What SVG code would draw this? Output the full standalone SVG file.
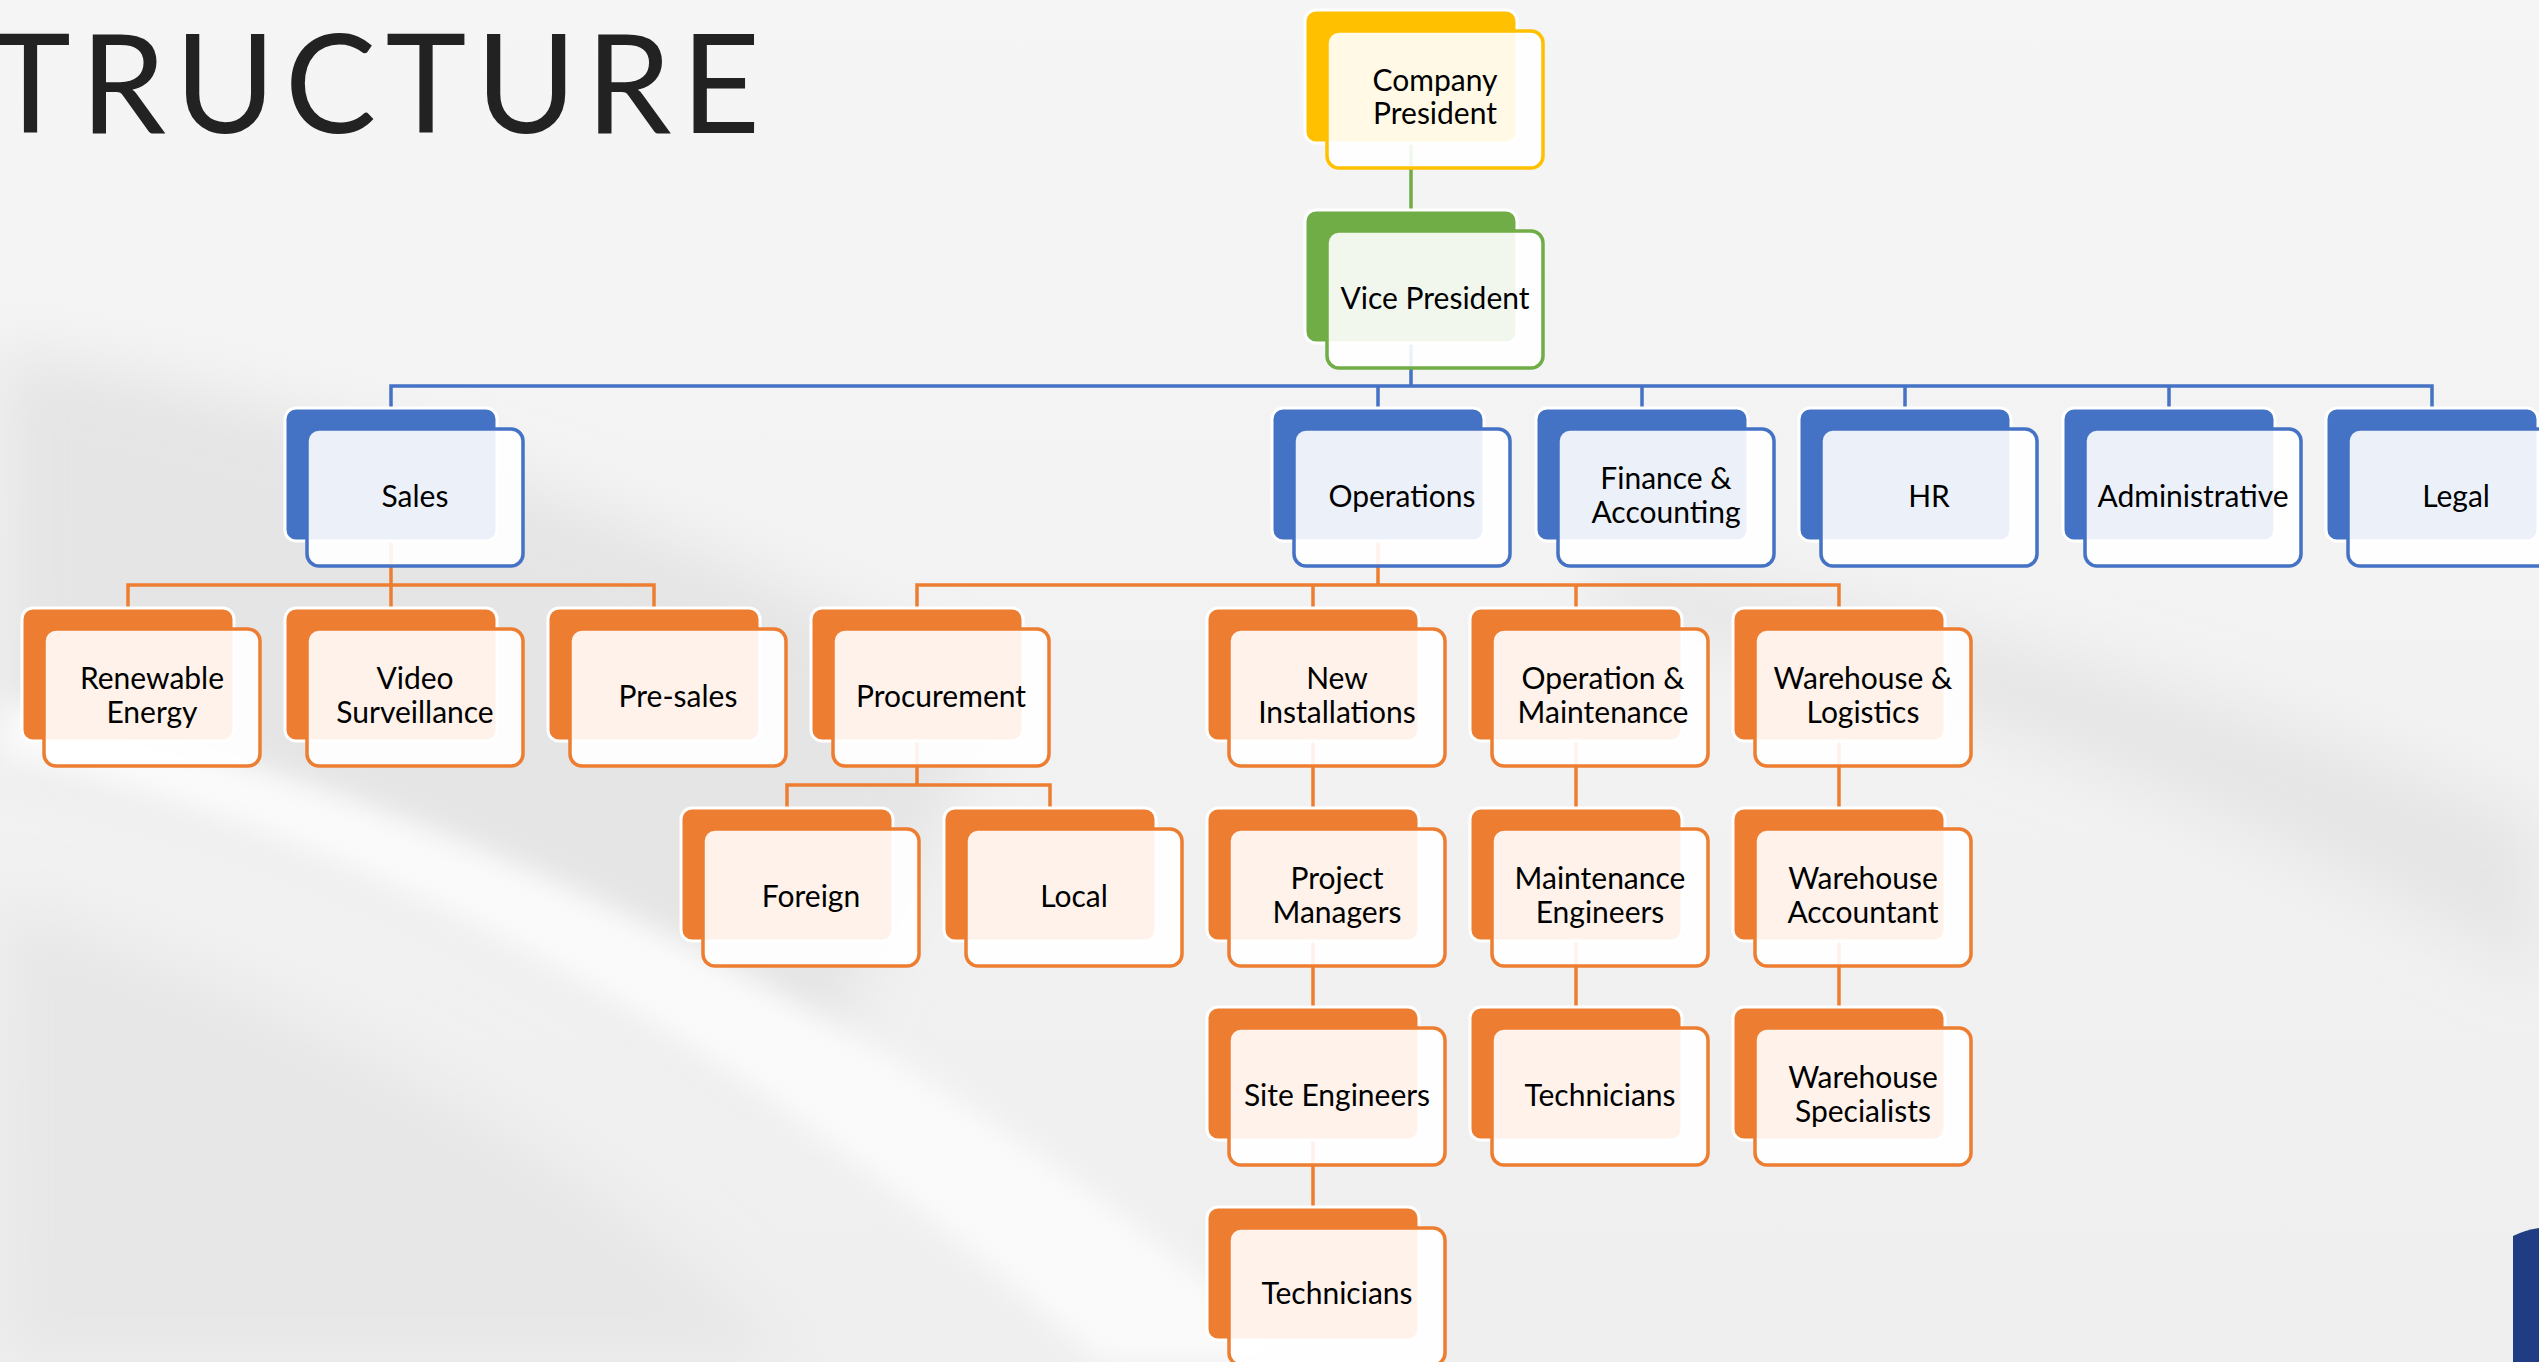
<svg xmlns="http://www.w3.org/2000/svg" width="2539" height="1362" viewBox="0 0 2539 1362">
<defs>
<style>
.bk{stroke:#ffffff;stroke-width:3}
.fr{fill:#ffffff;fill-opacity:0.9;stroke-width:3.5}
.gold .bk{fill:#FFC000}.gold .fr{stroke:#FFC000}
.green .bk{fill:#70AD47}.green .fr{stroke:#70AD47}
.blue .bk{fill:#4472C4}.blue .fr{stroke:#4472C4}
.orange .bk{fill:#ED7D31}.orange .fr{stroke:#ED7D31}
.lbl{font-family:Lato,"Liberation Sans",sans-serif;font-size:30px;text-anchor:middle;fill:#000000}
.c{fill:none;stroke-width:3.5}
.cg{stroke:#70AD47}.cb{stroke:#4472C4}.co{stroke:#ED7D31}
.title{font-family:Lato,"Liberation Sans",sans-serif;font-weight:400;font-size:137px;fill:#222222}
</style>
<linearGradient id="bgg" x1="0" y1="0" x2="0" y2="1">
<stop offset="0" stop-color="#F5F5F5"/>
<stop offset="1" stop-color="#EFEFEF"/>
</linearGradient>
<filter id="soft" x="-20%" y="-20%" width="140%" height="140%"><feGaussianBlur stdDeviation="30"/></filter>
<filter id="soft2" x="-20%" y="-20%" width="140%" height="140%"><feGaussianBlur stdDeviation="14"/></filter>
</defs>

<g id="background">
<rect x="0" y="0" width="2539" height="1362" fill="url(#bgg)"/>
<path d="M0,350 C300,400 700,520 1000,700 L800,1100 C500,900 250,800 0,760 Z" fill="#E5E5E5" filter="url(#soft)"/>
<path d="M0,900 C300,1000 600,1150 800,1362 L0,1362 Z" fill="#E7E7E7" filter="url(#soft)"/>
<path d="M0,760 C300,820 700,1000 1100,1362 L1300,1362 C900,1000 400,780 0,700 Z" fill="#FAFAFA" filter="url(#soft2)"/>
<path d="M1600,620 C2000,700 2300,850 2539,980 L2539,820 C2300,720 2000,620 1600,560 Z" fill="#E6E6E6" filter="url(#soft)"/>
<path d="M2513,1236 Q2525,1230 2539,1228 L2539,1362 L2513,1362 Z" fill="#203D84"/>
</g>

<text class="title" x="-10" y="133" textLength="770" lengthAdjust="spacing">TRUCTURE</text>

<g id="connectors">
<path id="e-cp-vp" class="c cg" d="M1411,143 V210"/>
<path id="e-vp-level2" class="c cb" d="M1411,343 V386 M391,408 V386 H2432 V408 M1378,386 V408 M1642,386 V408 M1905,386 V408 M2169,386 V408"/>
<path id="e-sales" class="c co" d="M391,541 V585 M128,608 V585 H654 V608 M391,585 V608"/>
<path id="e-ops" class="c co" d="M1378,541 V585 M917,608 V585 H1839 V608 M1313,585 V608 M1576,585 V608"/>
<path id="e-proc" class="c co" d="M917,741 V785 M787,808 V785 H1050 V808"/>
<path id="e-newinst-chain" class="c co" d="M1313,741 V808 M1313,940 V1007 M1313,1140 V1207"/>
<path id="e-om-chain" class="c co" d="M1576,741 V808 M1576,940 V1007"/>
<path id="e-wl-chain" class="c co" d="M1839,741 V808 M1839,940 V1007"/>
</g>

<g id="n-company-president" class="gold"><rect class="bk" x="1305" y="10" width="212" height="133" rx="11"/><rect class="fr" x="1327" y="31" width="216" height="137" rx="12"/><text class="lbl" x="1435" y="91">Company</text><text class="lbl" x="1435" y="124">President</text></g>
<g id="n-vice-president" class="green"><rect class="bk" x="1305" y="210" width="212" height="133" rx="11"/><rect class="fr" x="1327" y="231" width="216" height="137" rx="12"/><text class="lbl" x="1435" y="309">Vice President</text></g>

<g id="n-sales" class="blue"><rect class="bk" x="285" y="408" width="212" height="133" rx="11"/><rect class="fr" x="307" y="429" width="216" height="137" rx="12"/><text class="lbl" x="415" y="507">Sales</text></g>
<g id="n-operations" class="blue"><rect class="bk" x="1272" y="408" width="212" height="133" rx="11"/><rect class="fr" x="1294" y="429" width="216" height="137" rx="12"/><text class="lbl" x="1402" y="507">Operations</text></g>
<g id="n-finance" class="blue"><rect class="bk" x="1536" y="408" width="212" height="133" rx="11"/><rect class="fr" x="1558" y="429" width="216" height="137" rx="12"/><text class="lbl" x="1666" y="489">Finance &amp;</text><text class="lbl" x="1666" y="523">Accounting</text></g>
<g id="n-hr" class="blue"><rect class="bk" x="1799" y="408" width="212" height="133" rx="11"/><rect class="fr" x="1821" y="429" width="216" height="137" rx="12"/><text class="lbl" x="1929" y="507">HR</text></g>
<g id="n-administrative" class="blue"><rect class="bk" x="2063" y="408" width="212" height="133" rx="11"/><rect class="fr" x="2085" y="429" width="216" height="137" rx="12"/><text class="lbl" x="2193" y="507">Administrative</text></g>
<g id="n-legal" class="blue"><rect class="bk" x="2326" y="408" width="212" height="133" rx="11"/><rect class="fr" x="2348" y="429" width="216" height="137" rx="12"/><text class="lbl" x="2456" y="507">Legal</text></g>

<g id="n-renewable-energy" class="orange"><rect class="bk" x="22" y="608" width="212" height="133" rx="11"/><rect class="fr" x="44" y="629" width="216" height="137" rx="12"/><text class="lbl" x="152" y="689">Renewable</text><text class="lbl" x="152" y="723">Energy</text></g>
<g id="n-video-surveillance" class="orange"><rect class="bk" x="285" y="608" width="212" height="133" rx="11"/><rect class="fr" x="307" y="629" width="216" height="137" rx="12"/><text class="lbl" x="415" y="689">Video</text><text class="lbl" x="415" y="723">Surveillance</text></g>
<g id="n-pre-sales" class="orange"><rect class="bk" x="548" y="608" width="212" height="133" rx="11"/><rect class="fr" x="570" y="629" width="216" height="137" rx="12"/><text class="lbl" x="678" y="707">Pre-sales</text></g>
<g id="n-procurement" class="orange"><rect class="bk" x="811" y="608" width="212" height="133" rx="11"/><rect class="fr" x="833" y="629" width="216" height="137" rx="12"/><text class="lbl" x="941" y="707">Procurement</text></g>
<g id="n-new-installations" class="orange"><rect class="bk" x="1207" y="608" width="212" height="133" rx="11"/><rect class="fr" x="1229" y="629" width="216" height="137" rx="12"/><text class="lbl" x="1337" y="689">New</text><text class="lbl" x="1337" y="723">Installations</text></g>
<g id="n-operation-maintenance" class="orange"><rect class="bk" x="1470" y="608" width="212" height="133" rx="11"/><rect class="fr" x="1492" y="629" width="216" height="137" rx="12"/><text class="lbl" x="1603" y="689">Operation &amp;</text><text class="lbl" x="1603" y="723">Maintenance</text></g>
<g id="n-warehouse-logistics" class="orange"><rect class="bk" x="1733" y="608" width="212" height="133" rx="11"/><rect class="fr" x="1755" y="629" width="216" height="137" rx="12"/><text class="lbl" x="1863" y="689">Warehouse &amp;</text><text class="lbl" x="1863" y="723">Logistics</text></g>

<g id="n-foreign" class="orange"><rect class="bk" x="681" y="808" width="212" height="133" rx="11"/><rect class="fr" x="703" y="829" width="216" height="137" rx="12"/><text class="lbl" x="811" y="907">Foreign</text></g>
<g id="n-local" class="orange"><rect class="bk" x="944" y="808" width="212" height="133" rx="11"/><rect class="fr" x="966" y="829" width="216" height="137" rx="12"/><text class="lbl" x="1074" y="907">Local</text></g>
<g id="n-project-managers" class="orange"><rect class="bk" x="1207" y="808" width="212" height="133" rx="11"/><rect class="fr" x="1229" y="829" width="216" height="137" rx="12"/><text class="lbl" x="1337" y="889">Project</text><text class="lbl" x="1337" y="923">Managers</text></g>
<g id="n-maintenance-engineers" class="orange"><rect class="bk" x="1470" y="808" width="212" height="133" rx="11"/><rect class="fr" x="1492" y="829" width="216" height="137" rx="12"/><text class="lbl" x="1600" y="889">Maintenance</text><text class="lbl" x="1600" y="923">Engineers</text></g>
<g id="n-warehouse-accountant" class="orange"><rect class="bk" x="1733" y="808" width="212" height="133" rx="11"/><rect class="fr" x="1755" y="829" width="216" height="137" rx="12"/><text class="lbl" x="1863" y="889">Warehouse</text><text class="lbl" x="1863" y="923">Accountant</text></g>

<g id="n-site-engineers" class="orange"><rect class="bk" x="1207" y="1007" width="212" height="133" rx="11"/><rect class="fr" x="1229" y="1028" width="216" height="137" rx="12"/><text class="lbl" x="1337" y="1106">Site Engineers</text></g>
<g id="n-technicians-om" class="orange"><rect class="bk" x="1470" y="1007" width="212" height="133" rx="11"/><rect class="fr" x="1492" y="1028" width="216" height="137" rx="12"/><text class="lbl" x="1600" y="1106">Technicians</text></g>
<g id="n-warehouse-specialists" class="orange"><rect class="bk" x="1733" y="1007" width="212" height="133" rx="11"/><rect class="fr" x="1755" y="1028" width="216" height="137" rx="12"/><text class="lbl" x="1863" y="1088">Warehouse</text><text class="lbl" x="1863" y="1122">Specialists</text></g>

<g id="n-technicians-ni" class="orange"><rect class="bk" x="1207" y="1207" width="212" height="133" rx="11"/><rect class="fr" x="1229" y="1228" width="216" height="137" rx="12"/><text class="lbl" x="1337" y="1304">Technicians</text></g>
</svg>
